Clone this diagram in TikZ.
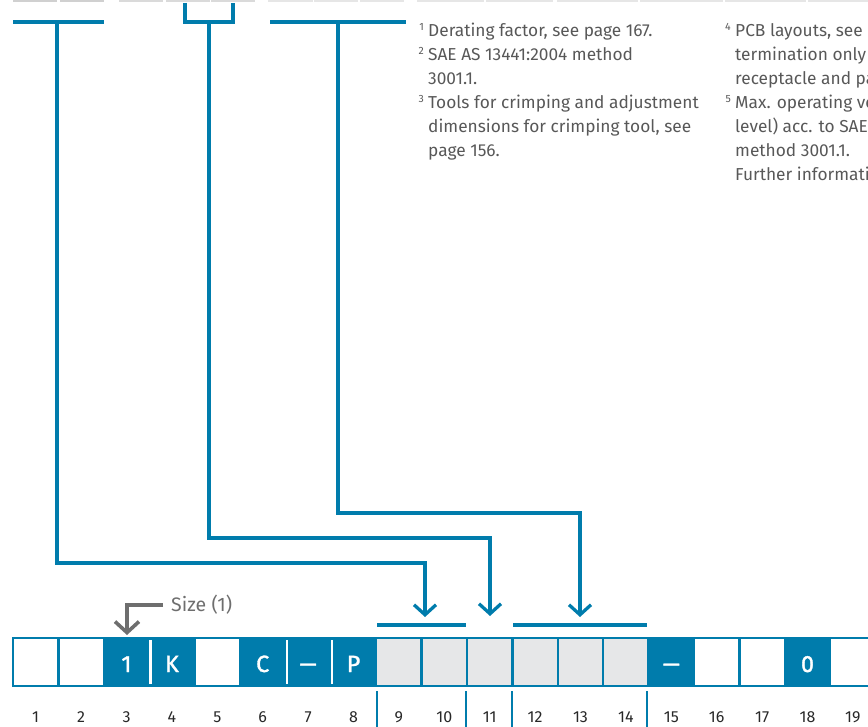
\documentclass[tikz,border=0pt]{standalone}
\usepackage{fontspec}
\setmainfont{Fira Sans}
\newfontfamily\cellfont[FakeBold=1.3]{Fira Sans}
\usetikzlibrary{arrows.meta}
\definecolor{ublue}{RGB}{0,124,172}
\definecolor{cellgray}{RGB}{230,231,232}
\definecolor{txtgray}{RGB}{88,88,88}
\definecolor{numgray}{RGB}{40,40,40}
\definecolor{sizegray}{RGB}{110,110,110}
\definecolor{topgrayA}{RGB}{208,208,208}
\definecolor{topgrayB}{RGB}{218,218,218}
\definecolor{topgrayC}{RGB}{230,230,230}
\begin{document}
\begin{tikzpicture}[x=1pt,y=-1pt,
  bracket/.style={draw=ublue,line width=3.3pt},
  conn/.style={draw=ublue,line width=3.3pt,-{Straight Barb[length=10pt,width=22pt]}},
  sizeconn/.style={draw=sizegray,line width=3.6pt,-{Straight Barb[length=11pt,width=24pt]}},
  divider/.style={draw=ublue,line width=2.6pt},
  cellbase/.style={rectangle,minimum width=45.4pt,minimum height=48pt,inner sep=0pt,draw=ublue,line width=2.5pt},
  wcell/.style={cellbase,fill=white},
  bcell/.style={cellbase,fill=ublue},
  gcell/.style={cellbase,fill=cellgray},
  celltxt/.style={anchor=base,inner sep=0pt,font=\cellfont\fontsize{23.5}{25}\selectfont,text=white},
  numlbl/.style={anchor=base,font=\fontsize{16}{18}\selectfont,text=numgray,inner sep=0pt},
  note/.style={anchor=base west,font=\fontsize{17.3}{19}\selectfont,text=txtgray,inner sep=0pt},
  supnum/.style={anchor=base east,font=\fontsize{10.5}{11}\selectfont,text=txtgray,inner sep=0pt},
  topline/.style={line width=2pt}
]
\useasboundingbox (0,0) rectangle (868,727);
\clip (0,0) rectangle (868,727);

% top strip (cropped table edges)
\foreach \a/\b in {13/57,60/104} \draw[topline,topgrayA] (\a,1) -- (\b,1);
\foreach \a/\b in {119/163,166/210,211/255} \draw[topline,topgrayB] (\a,1) -- (\b,1);
\foreach \a/\b in {268/313,314/358,360/404,417/484,486/553,557/638,640/723,725/806,808/868} \draw[topline,topgrayC] (\a,1) -- (\b,1);

% bracket coordinates
\coordinate (A1) at (13,22);
\coordinate (A2) at (104,22);
\coordinate (As) at (57,22);
\coordinate (At) at (425,563);
\coordinate (Ae) at (425,617);

\coordinate (B1) at (185,3);
\coordinate (Bl) at (185,22);
\coordinate (Br) at (233,22);
\coordinate (B2) at (233,3);
\coordinate (Bs) at (209,22);
\coordinate (Bt) at (490,538);
\coordinate (Be) at (490,616);

\coordinate (C1) at (270,22);
\coordinate (C2) at (406,22);
\coordinate (Cs) at (338,22);
\coordinate (Ct) at (580,513);
\coordinate (Ce) at (580,617);

\draw[bracket] (A1) -- (A2);
\draw[conn] (As) |- (At) -- (Ae);
\draw[bracket] (B1) -- (Bl) -- (Br) -- (B2);
\draw[conn] (Bs) |- (Bt) -- (Be);
\draw[bracket] (C1) -- (C2);
\draw[conn] (Cs) |- (Ct) -- (Ce);

% bars above cell groups
\coordinate (G1a) at (377,625);
\coordinate (G1b) at (466,625);
\coordinate (G2a) at (513,625);
\coordinate (G2b) at (647,625);
\draw[bracket] (G1a) -- (G1b);
\draw[bracket] (G2a) -- (G2b);

% cells
\foreach \k/\sty in {1/wcell,2/wcell,3/bcell,4/bcell,5/wcell,6/bcell,7/bcell,8/bcell,
  9/gcell,10/gcell,11/gcell,12/gcell,13/gcell,14/gcell,15/bcell,16/wcell,17/wcell,18/bcell,19/wcell}{
  \node[\sty] (c\k) at ({35.7+45.4*(\k-1)},662) {};
  \node[numlbl] (n\k) at ({35.7+45.4*(\k-1)},722) {\k};
}
% cell texts
\foreach \k/\txt in {3/1,4/K,6/C,8/P,18/0}{
  \node[celltxt] (t\k) at ([yshift=-10pt]c\k.center) {\txt};
}
\foreach \k in {7,15}{
  \node[celltxt] (t\k) at ([yshift=-10pt]c\k.center) {\scalebox{1.45}[1]{\textendash}};
}
% white dividers between adjacent blue cells
\foreach \k/\m in {3/4,6/7,7/8}{
  \draw[white,line width=2.2pt] ([yshift=-3.5pt]c\k.north east) -- ([yshift=3.5pt]c\k.south east);
}

% group dividers under the cells
\foreach \x [count=\i] in {377,466,512,647}{
  \coordinate (d\i a) at (\x,691);
  \coordinate (d\i b) at (\x,727);
  \draw[divider] (d\i a) -- (d\i b);
}

% Size (1)
\node[anchor=base west,font=\fontsize{19.5}{21}\selectfont,text=sizegray,inner sep=0pt] (size) at (171,611) {Size (1)};
\coordinate (S0) at (163,605);
\coordinate (S1) at (127,605);
\coordinate (S2) at (127,635);
\draw[sizeconn] (S0) -- (S1) -- (S2);

% footnotes column 1
\node[supnum] (s1) at (424,31) {1};
\node[note] (f1) at (428,37) {Derating factor, see page 167.};
\node[supnum] (s2) at (424,55) {2};
\node[note] (f2) at (428,61) {SAE AS 13441:2004 method};
\node[note] (f3) at (428,85) {3001.1.};
\node[supnum] (s3) at (424,103) {3};
\node[note] (f4) at (428,109) {Tools for crimping and adjustment};
\node[note] (f5) at (428,133) {dimensions for crimping tool, see};
\node[note] (f6) at (428,157) {page 156.};

% footnotes column 2
\node[supnum] (s4) at (731,31) {4};
\node[note] (g1) at (735,37) {PCB layouts, see};
\node[note] (g2) at (735,61) {termination only};
\node[note] (g3) at (735,85) {receptacle and pa};
\node[supnum] (s5) at (731,103) {5};
\node[note] (g4) at (735,109) {Max. operating vo};
\node[note] (g5) at (735,133) {level) acc. to SAE};
\node[note] (g6) at (735,157) {method 3001.1.};
\node[note] (g7) at (735,181) {Further informati};
\end{tikzpicture}
\end{document}
